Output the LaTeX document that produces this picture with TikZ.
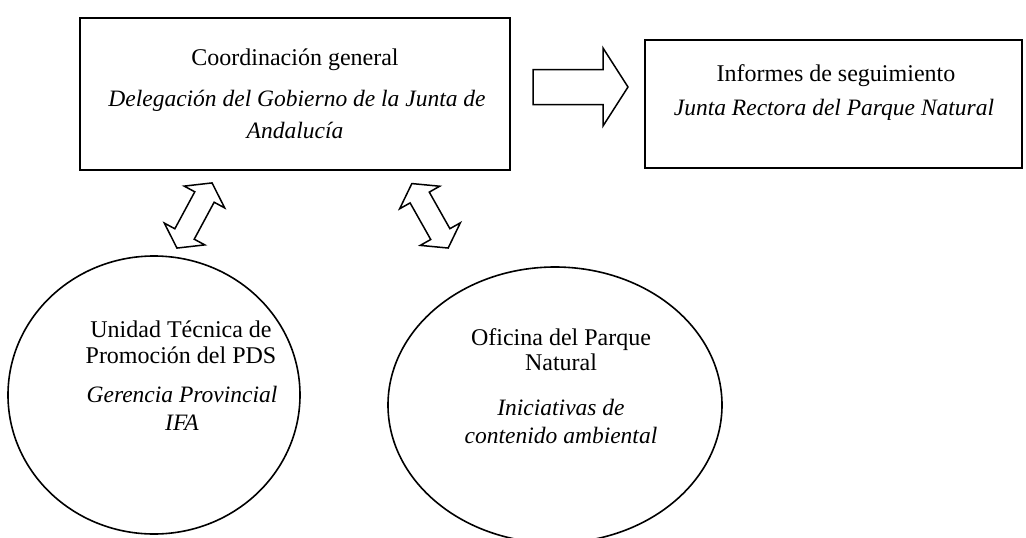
\documentclass[tikz,border=0pt]{standalone}
\usepackage{fontspec}
\setmainfont{Liberation Serif}
\usetikzlibrary{shapes.geometric}
\begin{document}
\begin{tikzpicture}[x=1pt,y=-1pt,
  frame/.style={draw=black,line width=1.6pt},
  oval/.style={draw=black,line width=1.6pt,ellipse,inner sep=0pt},
  blockarrow/.style={draw=black,line width=1.5pt,line join=miter,fill=white},
  txt/.style={align=center,font=\fontsize{24}{26}\selectfont,inner sep=0pt,anchor=base},
  itx/.style={txt,font=\fontsize{23.5}{26}\selectfont\itshape}]
\useasboundingbox (0,0) rectangle (1026,538);
% boxes
\node[frame,minimum width=430pt,minimum height=152pt] (coord) at (295,94) {};
\node[frame,minimum width=377pt,minimum height=128pt] (inf) at (833.5,104) {};
% ellipses
\node[oval,minimum width=292pt,minimum height=278pt] (uni) at (154,395) {};
\node[oval,minimum width=334pt,minimum height=276pt] (ofi) at (555,405) {};
% texts
\node[txt] (t1) at (295,65) {Coordinación general};
\node[itx] (t2) at (297,106) {Delegación del Gobierno de la Junta de};
\node[itx] (t3) at (295,138) {Andalucía};
\node[txt] (t4) at (836,81) {Informes de seguimiento};
\node[itx] (t5) at (834,115) {Junta Rectora del Parque Natural};
\node[txt] (t6) at (181,337) {Unidad Técnica de};
\node[txt] (t7) at (181,363) {Promoción del PDS};
\node[itx] (t8) at (182,402) {Gerencia Provincial};
\node[itx] (t9) at (182,430) {IFA};
\node[txt] (t10) at (561,345) {Oficina del Parque};
\node[txt] (t11) at (561,370) {Natural};
\node[itx] (t12) at (561,415) {Iniciativas de};
\node[itx] (t13) at (561,443) {contenido ambiental};
% right block arrow
\draw[blockarrow] (533,69.5) -- (603,69.5) -- (603,48) -- (628,87) -- (603,126) -- (603,104.5) -- (533,104.5) -- cycle;
% double arrows
\begin{scope}[shift={(194.5,215.5)},rotate=61.7]
\draw[blockarrow] (-37,0) -- (-21,23) -- (-21,11) -- (21,11) -- (21,23) -- (37,0) -- (21,-23) -- (21,-11) -- (-21,-11) -- (-21,-23) -- cycle;
\end{scope}
\begin{scope}[shift={(430,215.8)},rotate=119.4]
\draw[blockarrow] (-37,0) -- (-21,23) -- (-21,11) -- (21,11) -- (21,23) -- (37,0) -- (21,-23) -- (21,-11) -- (-21,-11) -- (-21,-23) -- cycle;
\end{scope}
\end{tikzpicture}
\end{document}
